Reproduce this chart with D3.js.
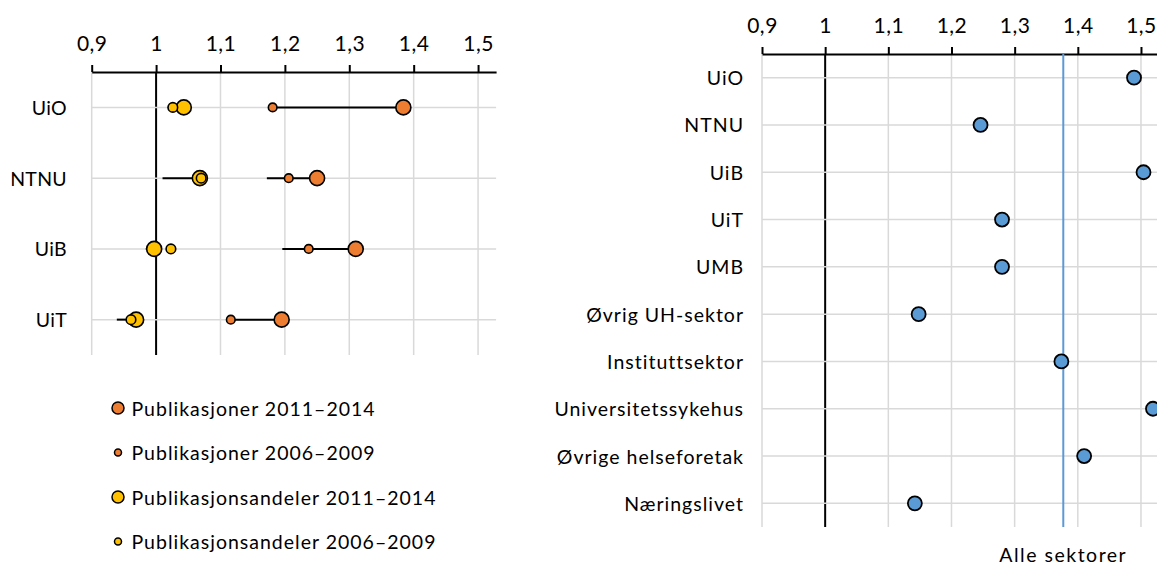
<!DOCTYPE html>
<head>
    <meta charset="utf-8">
    <title>Publikasjoner</title>
    <script src="https://d3js.org/d3.v7.min.js"></script>
    <style>
    body { margin: 0; background: #fff; }
    text { font-family: Lato, "Open Sans", sans-serif; fill: #000; }
    </style>
</head>
<body>
<script>
// venstre panel
var institusjoner = ["UiO", "NTNU", "UiB", "UiT"];
var pub2011 = [1.384, 1.250, 1.310, 1.195];
var pub2006 = [1.181, 1.206, 1.237, 1.116];
var pubLinjeStart = [1.181, 1.172, 1.196, 1.116];
var andel2011 = [1.043, 1.068, 0.997, 0.969];
var andel2006 = [1.026, 1.070, 1.023, 0.961];
var andelLinjeStart = [1.018, 1.010, 0.984, 0.939];
var legendTekst = ["Publikasjoner 2011\u20132014", "Publikasjoner 2006\u20132009",
                   "Publikasjonsandeler 2011\u20132014", "Publikasjonsandeler 2006\u20132009"];

// høyre panel
var sektorer = ["UiO", "NTNU", "UiB", "UiT", "UMB", "Øvrig UH-sektor", "Instituttsektor",
                "Universitetssykehus", "Øvrige helseforetak", "Næringslivet"];
var sektorVerdi = [1.489, 1.246, 1.504, 1.280, 1.280, 1.148, 1.374, 1.519, 1.410, 1.142];
var alleSektorer = 1.377;

var tickVerdier = [0.9, 1, 1.1, 1.2, 1.3, 1.4, 1.5];

var oransje = "#ed7d31", gul = "#ffc000", blaa = "#5b9bd5", grid = "#d9d9d9";
var fmt = function(d) { return String(Math.round(d * 10) / 10).replace(".", ","); };

var svg = d3.select("body").append("svg")
    .attr("width", 1157)
    .attr("height", 567);

function panel(x, y, cats, labelX, spacing) {
    var g = svg.append("g");
    var top = y.range()[0], bottom = y.range()[1];
    // gridlinjer
    g.selectAll(".vgrid").data(tickVerdier).enter().append("line")
        .attr("x1", function(d) { return x(d); }).attr("x2", function(d) { return x(d); })
        .attr("y1", top).attr("y2", bottom)
        .attr("stroke", function(d) { return d === 1 ? "#000" : grid; })
        .attr("stroke-width", function(d) { return d === 1 ? 2 : 1.5; });
    g.selectAll(".hgrid").data(cats).enter().append("line")
        .attr("x1", x.range()[0]).attr("x2", x.range()[1])
        .attr("y1", function(d) { return y(d) + y.bandwidth() / 2; })
        .attr("y2", function(d) { return y(d) + y.bandwidth() / 2; })
        .attr("stroke", grid).attr("stroke-width", 1.5);
    // akse
    var ax = g.append("g")
        .attr("transform", "translate(0," + top + ")")
        .call(d3.axisTop(x).tickValues(tickVerdier).tickFormat(fmt).tickSizeInner(7).tickSizeOuter(0).tickPadding(14));
    ax.select(".domain").attr("stroke", "#000").attr("stroke-width", 2);
    ax.selectAll(".tick line").attr("stroke", "#000").attr("stroke-width", 2);
    ax.selectAll("text").style("font-size", "21px").style("letter-spacing", "0.5px")
        .style("font-family", "Lato, sans-serif").attr("fill", "#000");
    // kategorier
    g.selectAll(".cat").data(cats).enter().append("text")
        .attr("x", labelX)
        .attr("y", function(d) { return y(d) + y.bandwidth() / 2; })
        .attr("text-anchor", "end")
        .attr("dominant-baseline", "central")
        .style("font-size", "19.5px")
        .style("letter-spacing", spacing)
        .text(function(d) { return d; });
    return g;
}

// ---- venstre ----
var xL = d3.scaleLinear().domain([0.9, 1.528]).range([91.7, 496.1]);
var yL = d3.scaleBand().domain(institusjoner).range([72, 355]);
var gL = panel(xL, yL, institusjoner, 67, "0.3px");
var midL = function(i) { return yL(institusjoner[i]) + yL.bandwidth() / 2; };

function linjer(start, slutt) {
    gL.append("g").selectAll("line").data(institusjoner).enter().append("line")
        .attr("x1", function(d, i) { return xL(start[i]); })
        .attr("x2", function(d, i) { return xL(slutt[i]); })
        .attr("y1", function(d, i) { return midL(i); })
        .attr("y2", function(d, i) { return midL(i); })
        .attr("stroke", "#000").attr("stroke-width", 2);
}
function sirkler(verdier, farge, r) {
    gL.append("g").selectAll("circle").data(verdier).enter().append("circle")
        .attr("cx", function(d) { return xL(d); })
        .attr("cy", function(d, i) { return midL(i); })
        .attr("r", r)
        .attr("fill", farge).attr("stroke", "#000").attr("stroke-width", 1.6);
}
linjer(pubLinjeStart, pub2011);
linjer(andelLinjeStart, andel2011);
sirkler(pub2011, oransje, 7.5);
sirkler(pub2006, oransje, 4.3);
sirkler(andel2011, gul, 7.5);
sirkler(andel2006, gul, 4.8);

// legende
var legFarge = [oransje, oransje, gul, gul];
var legR = [6, 3.5, 6, 3.5];
var leg = svg.append("g").selectAll("g").data(legendTekst).enter().append("g")
    .attr("transform", function(d, i) { return "translate(118," + (408 + i * 44.5) + ")"; });
leg.append("circle")
    .attr("r", function(d, i) { return legR[i]; })
    .attr("fill", function(d, i) { return legFarge[i]; })
    .attr("stroke", "#000").attr("stroke-width", 1.5);
leg.append("text")
    .attr("x", 13.5)
    .attr("dominant-baseline", "central")
    .style("font-size", "19.5px")
    .style("letter-spacing", "1px")
    .text(function(d) { return d; });

// ---- høyre ----
var xR = d3.scaleLinear().domain([0.9, 1.526]).range([762, 1157.4]);
var yR = d3.scaleBand().domain(sektorer).range([54, 527]);
var gR = panel(xR, yR, sektorer, 744, "1px");

gR.append("line")
    .attr("x1", xR(alleSektorer)).attr("x2", xR(alleSektorer))
    .attr("y1", 54).attr("y2", 527)
    .attr("stroke", blaa).attr("stroke-width", 2);
gR.append("text")
    .attr("x", xR(alleSektorer))
    .attr("y", 554)
    .attr("text-anchor", "middle")
    .attr("dominant-baseline", "central")
    .style("font-size", "19.5px")
    .style("letter-spacing", "1.5px")
    .text("Alle sektorer");

gR.append("g").selectAll("circle").data(sektorVerdi).enter().append("circle")
    .attr("cx", function(d) { return xR(d); })
    .attr("cy", function(d, i) { return yR(sektorer[i]) + yR.bandwidth() / 2; })
    .attr("r", 7)
    .attr("fill", blaa).attr("stroke", "#000").attr("stroke-width", 1.8);
</script>
</body>
